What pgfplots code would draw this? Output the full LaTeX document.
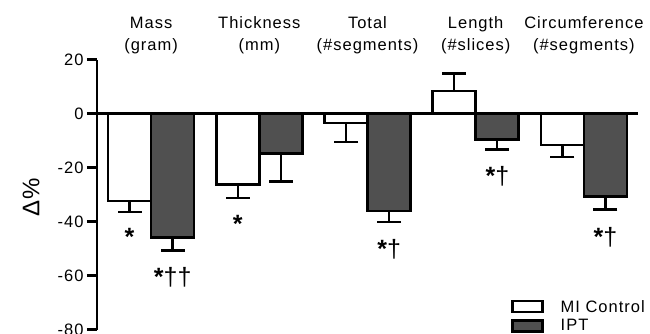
\documentclass[border=0pt]{standalone}
\usepackage{pgfplots}
\usepackage{pgfplotstable}
\pgfplotsset{compat=1.18}
\usepackage{fontspec}
\setmainfont{Liberation Sans}[LetterSpace=6]
\newfontfamily\markfont{Liberation Sans}
\definecolor{iptgray}{HTML}{505050}
\pgfplotstableread{
x  y      ep   em
0  -32.4  0    4.0
1  -26.3  0    5.0
2  -3.5   0    7.0
3  8.4    6.4  0
4  -11.6  0    4.5
}\controldata
\pgfplotstableread{
x  y      ep   em
0  -45.9  0    4.7
1  -14.8  0    10.3
2  -36.1  0    4.0
3  -9.6   0    3.6
4  -30.6  0    4.8
}\iptdata
\begin{document}
\begin{tikzpicture}
\path[use as bounding box] (0,0) rectangle (650pt,334pt);
\begin{axis}[
  scale only axis,
  width=541pt, height=270pt,
  at={(97pt,4.3pt)}, anchor=south west,
  xmin=-0.5, xmax=4.5, ymin=-80, ymax=20,
  axis x line=middle, axis y line=left,
  axis line style={-, line width=2.5pt, black},
  xtick=\empty,
  ytick={-80,-60,-40,-20,0,20},
  yticklabels={-80,-60,-40,-20,0,20},
  ytick pos=left, tick align=outside,
  major tick length=10pt,
  tick style={line width=2.5pt, black},
  yticklabel style={font=\fontsize{16.5}{18}\selectfont, xshift=0pt},
  ybar, bar width=43pt,
  clip=false,
  error bars/y dir=both, error bars/y explicit,
  error bars/error mark=|,
  error bars/error bar style={line width=2.5pt, black},
  error bars/error mark options={line width=2.5pt, black, mark size=12pt},
  legend style={draw=none, fill=none, at={(0.76,0.125)}, anchor=north west,
    font=\fontsize{16.5}{18}\selectfont, row sep=2pt, legend cell align=left},
  legend image code/.code={\draw[#1, line width=2.2pt] (0pt,-5.5pt) rectangle (30pt,5.5pt); \path (45pt,0pt);},
]
\addplot[draw=black, line width=2.5pt, fill=white, bar shift=-21.5pt]
  table[x=x, y=y, y error plus=ep, y error minus=em] {\controldata};
\addlegendentry{MI Control}
\addplot[draw=black, line width=2.5pt, fill=iptgray, bar shift=21.5pt]
  table[x=x, y=y, y error plus=ep, y error minus=em] {\iptdata};
\addlegendentry{IPT}
% group titles
\begin{scope}[every node/.style={anchor=base, inner sep=0pt, font=\fontsize{16.5}{18}\selectfont}]
\node at (axis cs:0,31.5) {Mass};
\node at (axis cs:0,23.4) {(gram)};
\node at (axis cs:1,31.5) {Thickness};
\node at (axis cs:1,23.4) {(mm)};
\node at (axis cs:2,31.5) {Total};
\node at (axis cs:2,23.4) {(\#segments)};
\node at (axis cs:3,31.5) {Length};
\node at (axis cs:3,23.4) {(\#slices)};
\node at (axis cs:4,31.5) {Circumference};
\node at (axis cs:4,23.4) {(\#segments)};
\end{scope}
% significance marks
\begin{scope}[every node/.style={anchor=north, inner sep=0pt, font=\markfont\fontsize{25}{26}\selectfont}]
\node at (axis cs:-0.2,-42.5) {\textbf{*}};
\node at (axis cs:0.2,-56.8) {\textbf{*}††};
\node at (axis cs:0.8,-37.7) {\textbf{*}};
\node at (axis cs:2.2,-46.3) {\textbf{*}†};
\node at (axis cs:3.2,-19.5) {\textbf{*}†};
\node at (axis cs:4.2,-42.0) {\textbf{*}†};
\end{scope}
\end{axis}
\node[rotate=90, font=\fontsize{24}{26}\selectfont] at (31pt,136.5pt) {Δ\%};
\end{tikzpicture}
\end{document}
